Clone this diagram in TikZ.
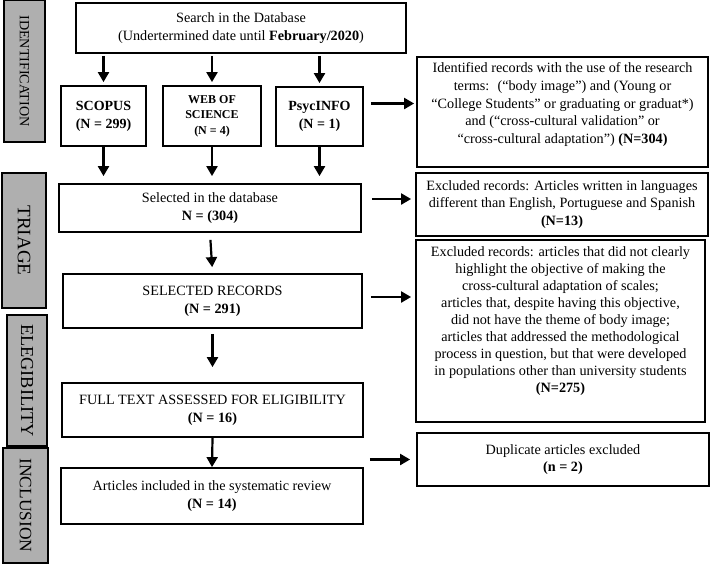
\documentclass[tikz,border=0pt]{standalone}
\usepackage{fontspec}
\setmainfont{Liberation Serif}
\usetikzlibrary{arrows.meta,positioning}
\definecolor{sidegray}{HTML}{AFAFAF}
\tikzset{
  body/.style={font=\fontsize{14.2}{17.8}\selectfont,align=center},
  box/.style={draw=black,line width=1.8pt,fill=white,inner sep=0pt,body},
  dbbox/.style={box,font=\bfseries\fontsize{14}{17.8}\selectfont},
  sidebar/.style={draw=black,line width=1.6pt,fill=sidegray,rotate=-90,inner sep=0pt},
  arr/.style={-{Triangle[length=10pt,width=11pt]},line width=2.2pt}
}

\begin{document}
\begin{tikzpicture}[x=1pt,y=-1pt]
\path[use as bounding box] (0,0) rectangle (710,563);
% phase bars
\node[sidebar,minimum width=142pt,minimum height=41pt,font=\fontsize{14.1}{16}\selectfont] (identbar) at (24.5,71) {IDENTIFICATION};
\node[sidebar,minimum width=135pt,minimum height=44pt,font=\fontsize{19}{20}\selectfont] (triagebar) at (24,240.5) {TRIAGE};
\node[sidebar,minimum width=131pt,minimum height=40pt,font=\fontsize{18.3}{20}\selectfont] (eligbar) at (27,380.5) {ELEGIBILITY};
\node[sidebar,minimum width=115pt,minimum height=45pt,font=\fontsize{17.4}{20}\selectfont] (inclbar) at (25.5,505.5) {INCLUSION};

% main column
\node[box,minimum width=330pt,minimum height=50pt] (search) at (241,28) {Search in the Database\\(Undertermined date until \textbf{February/2020})};
\node[dbbox,minimum width=85pt,minimum height=60pt] (scopus) at (103.5,116) {SCOPUS\\(N = 299)};
\node[dbbox,minimum width=98pt,minimum height=60pt,font=\bfseries\fontsize{12}{15.5}\selectfont] (wos) at (212,116) {WEB OF\\SCIENCE\\(N = 4)};
\node[dbbox,minimum width=87pt,minimum height=59pt] (psyc) at (319.5,116.5) {PsycINFO\\(N = 1)};
\node[box,minimum width=302pt,minimum height=48pt] (sel) at (210,208) {Selected in the database\\\textbf{N = (304)}};
\node[box,minimum width=299pt,minimum height=54pt] (selrec) at (212.5,301) {SELECTED RECORDS\\\textbf{(N = 291)}};
\node[box,minimum width=301pt,minimum height=54pt] (full) at (212.5,410) {FULL TEXT ASSESSED FOR ELIGIBILITY\\\textbf{(N = 16)}};
\node[box,minimum width=302pt,minimum height=56pt] (incl) at (212,496) {Articles included in the systematic review\\\textbf{(N = 14)}};

% right column
\node[box,minimum width=291pt,minimum height=110pt] (ident) at (562.5,112) {Identified records with the use of the research\\terms:~ (“body image”) and (Young or\\“College Students” or graduating or graduat*)\\and (“cross-cultural validation” or\\“cross-cultural adaptation”) \textbf{(N=304)}\\\mbox{}};
\node[box,minimum width=292pt,minimum height=63pt] (exlang) at (562,204.5) {Excluded records: Articles written in languages\\different than English, Portuguese and Spanish\\\textbf{(N=13)}};
\node[box,minimum width=289pt,minimum height=182pt,font=\fontsize{14.2}{17}\selectfont] (exbig) at (560.5,331) {Excluded records: articles that did not clearly\\highlight the objective of making the\\cross-cultural adaptation of scales;\\articles that, despite having this objective,\\did not have the theme of body image;\\articles that addressed the methodological\\process in question, but that were developed\\in populations other than university students\\\textbf{(N=275)}\\[6pt]\mbox{}};
\node[box,minimum width=292pt,minimum height=53pt] (dup) at (563,459.5) {Duplicate articles excluded\\\textbf{(n = 2)}};

% arrows down
\foreach \db in {scopus,wos,psyc}{
 \draw[arr,shorten <=2pt,shorten >=3pt] (search.south -| \db.north) -- (\db.north);
 \draw[arr,shorten >=7pt] (\db.south) -- (\db.south |- sel.north);
}
\draw[arr,shorten <=7pt,shorten >=6pt] (sel.south) -- (selrec.north);
\draw[arr,shorten <=5pt,shorten >=15pt] (selrec.south) -- (full.north);
\draw[arr] (full.south) -- (incl.north);

% arrows right
\draw[arr,shorten <=7pt,shorten >=2pt] ([yshift=13pt]psyc.east) -- ([yshift=13pt]psyc.east -| ident.west);
\draw[arr,shorten <=10pt,shorten >=4pt] ([yshift=9pt]sel.east) -- ([yshift=9pt]sel.east -| exlang.west);
\draw[arr,shorten <=8pt,shorten >=4pt] ([yshift=4pt]selrec.east) -- ([yshift=4pt]selrec.east -| exbig.west);
\draw[arr,shorten <=6pt,shorten >=6pt] (full.east |- dup.west) -- (dup.west);
\end{tikzpicture}
\end{document}
